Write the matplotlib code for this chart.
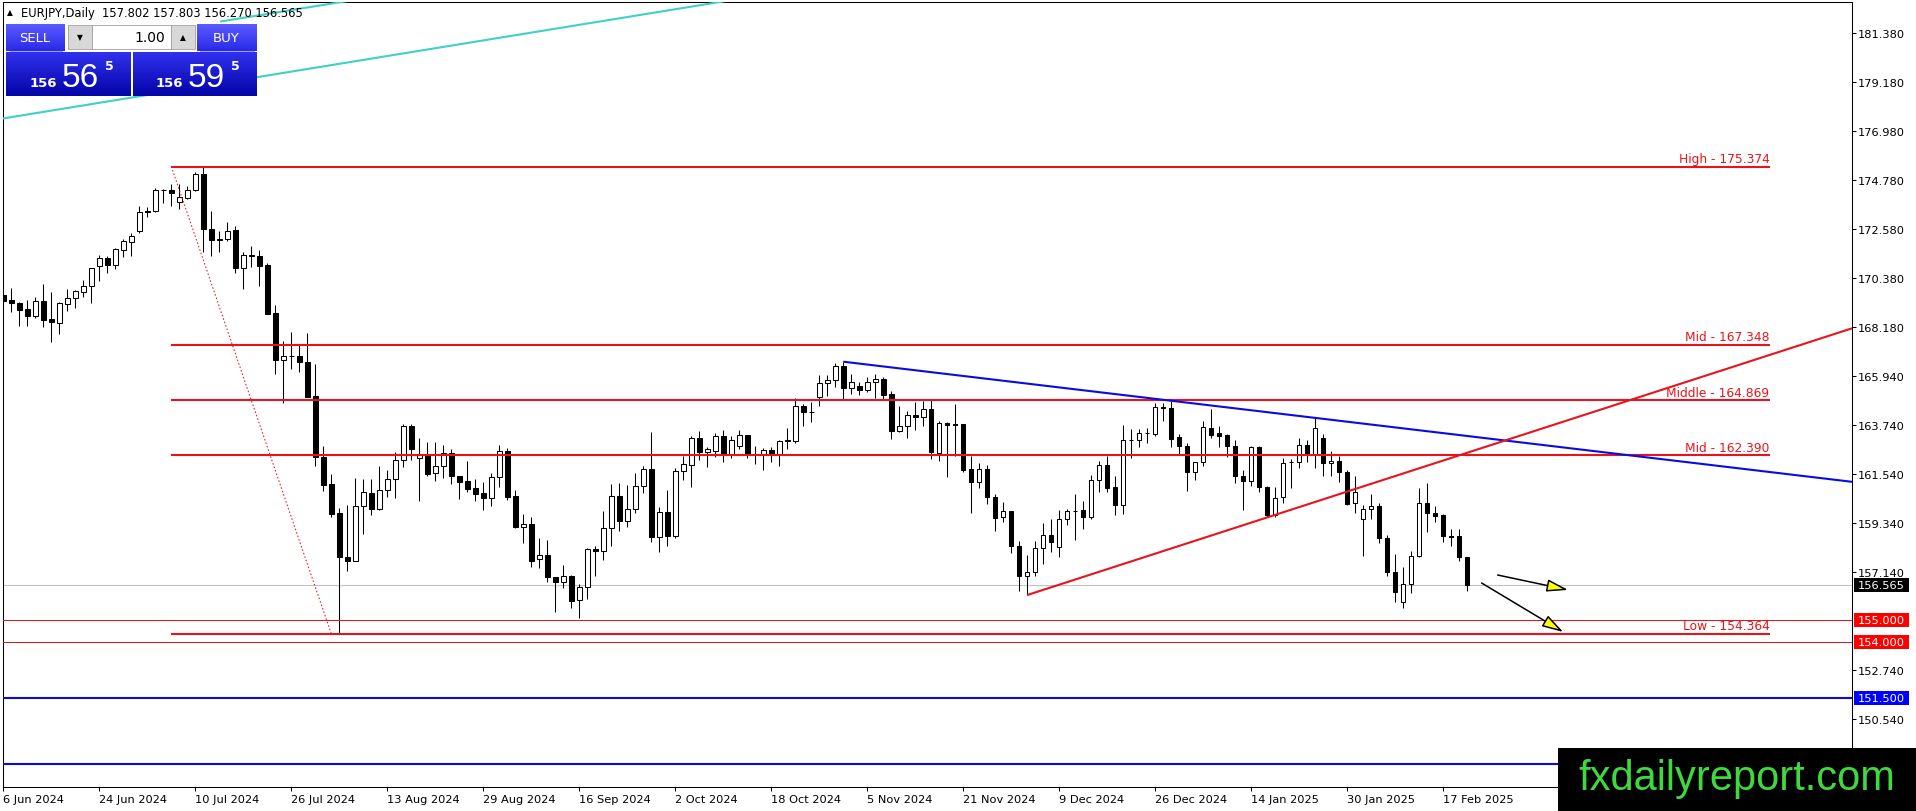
import matplotlib
matplotlib.use('Agg')
import matplotlib.pyplot as plt
import numpy as np
from matplotlib.patches import Rectangle, FancyArrowPatch

# ---------------- data ----------------
opens = [169.60,169.37,169.24,168.97,168.67,169.31,168.52,168.32,169.18,169.45,
         169.72,169.99,170.91,171.26,170.96,171.63,171.99,172.49,173.36,173.36,
         174.32,174.32,173.76,173.96,174.33,175.04,172.56,172.10,172.10,172.52,
         170.79,171.39,171.33,170.94,168.79,166.69,166.87,166.87,166.60,165.07,
         162.30,161.10,159.82,157.80,157.65,160.12,160.68,159.97,160.83,161.32,
         162.18,163.69,162.25,162.37,161.59,161.89,162.48,161.44,161.25,160.92,
         160.69,160.47,161.40,162.57,160.54,159.19,159.30,157.73,157.91,156.90,
         156.68,156.95,155.88,156.45,158.18,158.07,159.12,160.54,159.45,160.00,
         161.02,161.77,158.70,159.83,158.78,161.67,161.97,163.15,162.55,162.60,
         163.24,162.45,162.82,163.30,162.45,162.45,162.63,162.45,163.05,163.05,
         164.62,164.35,165.00,165.63,165.79,166.39,165.40,165.49,165.34,165.67,
         165.82,165.15,163.50,163.69,164.20,164.10,164.47,162.48,163.84,163.78,
         163.80,161.77,161.17,161.77,160.50,159.60,159.87,158.33,156.95,157.13,
         158.21,158.81,158.25,159.52,159.90,159.93,159.64,161.28,161.95,160.95,
         160.17,163.08,163.08,163.39,163.35,164.55,164.52,163.20,162.79,161.62,
         162.07,163.60,163.39,163.30,162.79,161.47,161.25,162.75,160.95,159.70,
         160.50,162.07,162.07,162.85,162.45,163.15,162.03,162.12,161.65,160.24,
         159.52,160.00,160.09,158.66,157.16,155.78,156.60,157.88,160.23,159.82,
         159.70,158.75,158.75,157.802]
highs = [170.24,169.90,169.27,169.37,169.49,170.09,169.72,169.30,169.87,169.84,
         170.27,170.79,171.39,171.33,171.72,172.11,172.38,173.61,173.54,174.42,
         174.36,174.59,174.59,174.51,175.11,175.374,173.39,172.49,172.86,172.71,
         171.54,171.81,171.63,171.02,169.15,167.53,167.95,167.39,167.89,166.50,
         162.79,161.55,160.02,160.15,161.35,161.32,161.32,161.92,161.73,162.52,
         163.80,163.80,163.15,162.97,162.97,162.85,162.67,161.47,162.15,161.32,
         161.17,161.59,162.87,162.70,160.83,159.75,159.60,158.67,158.58,156.93,
         157.46,157.01,156.60,158.22,158.33,159.90,161.10,161.13,161.05,161.59,
         161.89,163.45,160.05,160.85,161.82,162.37,163.27,163.50,162.75,163.39,
         163.54,163.24,163.54,163.30,162.82,162.70,162.75,163.09,163.62,164.95,
         164.70,164.77,166.00,166.00,166.54,166.60,166.05,165.67,165.90,166.05,
         165.90,165.30,164.59,164.40,164.77,164.85,164.92,163.95,163.90,164.70,
         163.80,162.37,162.04,161.95,160.65,160.27,159.87,158.55,157.91,158.55,
         159.34,159.52,159.94,160.00,160.65,160.35,161.50,162.15,162.37,161.47,
         163.75,163.57,163.57,163.60,164.74,164.74,164.85,163.35,162.94,162.10,
         163.95,164.47,163.72,163.35,163.09,161.73,162.79,162.79,160.99,160.98,
         162.25,162.22,163.15,163.09,164.05,163.35,162.60,162.34,161.74,161.44,
         160.15,160.65,160.24,158.81,157.95,157.35,158.10,160.90,161.13,160.12,
         159.75,159.07,159.07,157.803]
lows = [169.12,168.85,168.22,168.22,168.58,168.17,167.47,167.86,168.89,169.03,
        169.52,169.25,170.24,170.59,170.77,171.32,171.36,172.38,173.09,173.34,
        173.72,173.61,173.46,173.91,174.29,171.51,171.36,171.51,172.04,170.59,
        169.87,170.84,169.99,168.74,166.04,164.74,166.27,166.15,165.00,161.92,
        160.80,159.64,154.364,157.20,157.62,158.85,159.70,159.94,160.53,160.47,
        161.85,162.19,160.35,161.47,161.25,161.37,161.10,160.42,160.75,160.35,
        159.94,160.12,160.95,160.39,159.12,158.45,157.38,157.32,156.71,155.36,
        156.42,155.52,155.07,155.93,156.98,157.70,158.33,158.97,159.15,159.82,
        160.70,158.51,158.03,158.30,158.66,161.29,160.95,162.19,161.85,162.30,
        162.10,162.25,162.67,162.25,162.00,161.74,162.10,161.92,162.67,162.94,
        163.72,163.87,164.62,165.07,165.45,164.92,165.15,165.10,165.25,164.95,
        164.92,163.12,163.42,163.15,163.54,163.72,162.22,162.15,161.40,162.37,
        161.65,159.80,160.90,160.20,159.00,159.40,158.00,156.30,156.11,156.95,
        157.50,158.03,157.80,159.25,158.60,159.07,159.55,160.75,160.72,159.73,
        159.75,162.25,162.78,162.94,163.24,163.95,162.75,162.45,160.80,161.29,
        161.89,163.15,162.75,162.30,161.13,159.94,160.99,160.72,159.64,159.64,
        160.23,160.90,161.80,162.10,161.82,161.47,161.47,161.20,160.15,159.82,
        157.88,159.52,158.45,156.95,155.78,155.51,156.20,157.80,158.93,159.40,
        158.48,158.30,157.65,156.270]
closes = [169.34,169.22,168.94,168.67,169.31,168.49,168.37,169.24,169.45,169.76,
          169.99,170.79,171.24,170.96,171.66,172.01,172.23,173.31,173.31,174.33,
          174.30,174.17,173.99,174.33,175.04,172.56,172.08,172.08,172.49,170.79,
          171.39,171.33,170.91,168.74,166.69,166.87,166.85,166.57,165.03,162.30,
          161.07,159.75,157.80,157.65,160.12,160.72,160.00,160.83,161.32,162.18,
          163.69,162.67,162.45,161.55,161.89,162.48,161.47,161.20,160.87,160.65,
          160.47,161.40,162.57,160.50,159.18,159.30,157.65,157.91,156.90,156.68,
          156.95,155.85,156.45,158.18,158.07,159.12,160.57,159.45,160.00,161.02,
          161.77,158.70,159.83,158.78,161.67,162.00,163.15,162.55,162.67,163.24,
          162.45,163.09,163.30,162.45,162.43,162.63,162.45,163.02,163.08,164.59,
          164.32,164.33,165.64,165.79,166.39,165.40,165.67,165.34,165.67,165.82,
          165.12,163.50,163.69,164.20,164.10,164.47,162.55,163.84,163.75,163.77,
          161.74,161.17,161.77,160.50,159.57,159.87,158.33,156.95,157.13,158.21,
          158.81,158.48,159.52,159.87,159.87,159.64,161.28,161.95,160.93,160.17,
          163.08,163.06,163.39,163.38,164.55,164.53,163.12,162.79,161.62,162.07,
          163.65,163.32,163.27,162.79,161.47,161.25,162.75,160.95,159.70,160.45,
          162.03,162.08,162.85,162.45,163.60,162.03,162.15,161.65,160.20,160.72,
          160.00,160.09,158.66,157.16,156.26,156.60,157.88,160.23,159.82,159.67,
          158.75,158.74,157.80,156.565]

date_labels = ['6 Jun 2024', '24 Jun 2024', '10 Jul 2024', '26 Jul 2024', '13 Aug 2024',
               '29 Aug 2024', '16 Sep 2024', '2 Oct 2024', '18 Oct 2024', '5 Nov 2024',
               '21 Nov 2024', '9 Dec 2024', '26 Dec 2024', '14 Jan 2025', '30 Jan 2025',
               '17 Feb 2025']
price_ticks = [181.380, 179.180, 176.980, 174.780, 172.580, 170.380, 168.180, 165.940,
               163.740, 161.540, 159.340, 157.140, 152.740, 150.540]

fib_names = ['High', 'Mid', 'Middle', 'Mid', 'Low']
fib_levels = [175.374, 167.348, 164.869, 162.390, 154.364]
fib_start_bar, fib_end_bar = 21, 41
red_levels = [155.000, 154.000]
blue_levels = [151.500, 148.500]
last_price = 156.565
header_text = 'EURJPY,Daily  157.802 157.803 156.270 156.565'
sell_price = ('156', '56', '5')
buy_price = ('156', '59', '5')
lot_size = '1.00'

# trend lines as (bar, price) anchors
cyan_a = [(27.1, 181.89), (50.0, 183.22)]
cyan_b = [(-2.0, 177.42), (100.0, 183.38)]
blue_trend = [(105, 166.60), (231.1, 161.20)]
red_trend = [(128, 156.11), (231.1, 168.10)]
arrows = [((186.8, 157.01), (195.6, 156.34)),
          ((184.8, 156.65), (195.0, 154.45))]

# ---------------- layout ----------------
W, H = 1916, 812
RED = '#e8141c'
BLUE = '#0a0ae6'
CYAN = '#3fd0c6'
fig = plt.figure(figsize=(W / 100, H / 100), dpi=100, facecolor='white')
Lp, Rp, Tp, Bp = 3, 1852, 3, 788
ax = fig.add_axes([Lp / W, 1 - Bp / H, (Rp - Lp) / W, (Bp - Tp) / H])
XMIN, XMAX = -0.04, 231.1
YMIN, YMAX = 147.48, 182.77
ax.set_xlim(XMIN, XMAX)
ax.set_ylim(YMIN, YMAX)
ax.set_facecolor('white')

o = np.array(opens); h = np.array(highs); l = np.array(lows); c = np.array(closes)
x = np.arange(len(o))
up = c >= o
ax.vlines(x, l, h, color='black', lw=0.75, zorder=2)
bot = np.minimum(o, c)
hgt = np.abs(c - o)
ax.bar(x[up], hgt[up], bottom=bot[up], width=0.56, facecolor='white',
       edgecolor='black', lw=0.75, zorder=3)
ax.bar(x[~up], hgt[~up], bottom=bot[~up], width=0.56, facecolor='black',
       edgecolor='black', lw=0.75, zorder=3)

# full-width horizontal lines
ax.axhline(last_price, color='#c0c0c0', lw=0.75, zorder=1)
for lv in red_levels:
    ax.axhline(lv, color=RED, lw=0.75, zorder=4)
for lv in blue_levels:
    ax.axhline(lv, color=BLUE, lw=1.5, zorder=4)

# fibonacci levels
fib_label_bar = 220.8
for nm, lv in zip(fib_names, fib_levels):
    ax.hlines(lv, fib_start_bar, fib_label_bar, color=RED, lw=1.5, zorder=4)
    ax.annotate(f'{nm} - {lv:.3f}', (fib_label_bar, lv), xytext=(0, 1.2),
                textcoords='offset points', ha='right', va='bottom',
                color=RED, fontsize=8.8, zorder=5)
ax.plot([fib_start_bar, fib_end_bar], [fib_levels[0], fib_levels[-1]], color=RED,
        lw=0.75, ls=(0, (1.5, 2)), zorder=4)

# trend lines
for (p0, p1), col in [(cyan_a, CYAN), (cyan_b, CYAN),
                      (blue_trend, BLUE), (red_trend, RED)]:
    ax.plot([p0[0], p1[0]], [p0[1], p1[1]], color=col, lw=1.5, zorder=4,
            solid_capstyle='butt')

for a, b in arrows:
    ax.add_patch(FancyArrowPatch(a, b, arrowstyle='-|>,head_length=1.3,head_width=0.38',
                                 mutation_scale=10, facecolor='#ffff00',
                                 edgecolor='black', lw=1.1, shrinkA=0, shrinkB=0,
                                 zorder=6))

# axes styling
for sp in ax.spines.values():
    sp.set_color('black'); sp.set_linewidth(0.75)
ax.yaxis.tick_right()
ax.set_yticks(price_ticks)
ax.set_yticklabels([f'{v:.3f}' for v in price_ticks])
ax.tick_params(axis='y', direction='out', length=3, width=0.75, pad=1.5,
               labelsize=8.2, colors='black')
ax.set_xticks(np.arange(len(date_labels)) * 12)
ax.set_xticklabels(date_labels)
for t in ax.get_xticklabels():
    t.set_horizontalalignment('left')
ax.tick_params(axis='x', direction='out', length=3, width=0.75, pad=2,
               labelsize=8.2, colors='black')

# ---------------- overlay (terminal widgets) ----------------
ov = fig.add_axes([0, 0, 1, 1], zorder=10)
ov.set_xlim(0, W); ov.set_ylim(H, 0); ov.axis('off'); ov.patch.set_alpha(0)


def to_px(bar, price):
    xd, yd = ax.transData.transform((bar, price))
    return xd, H - yd


def grad(x0, y0, x1, y1, ctop, cbot):
    ct = np.array(matplotlib.colors.to_rgb(ctop)); cb = np.array(matplotlib.colors.to_rgb(cbot))
    t = np.linspace(0, 1, 32)[:, None, None]
    img = ct * (1 - t) + cb * t
    ov.imshow(img, extent=[x0, x1, y1, y0], origin='upper', aspect='auto',
              interpolation='bilinear', zorder=11)


# price labels on the axis
for lv, bg in [(last_price, 'black'), (red_levels[0], '#ff0000'),
               (red_levels[1], '#ff0000'), (blue_levels[0], '#0000ff')]:
    _, yp = to_px(0, lv)
    ov.add_patch(Rectangle((1854, yp - 7), 55, 14, facecolor=bg, edgecolor='none', zorder=11))
    ov.text(1881.5, yp, f'{lv:.3f}', color='white', fontsize=8.2, ha='center',
            va='center', zorder=12)

# header
ov.text(7, 13, '\u25B2', fontsize=5.5, color='black', va='center', zorder=12)
ov.text(21, 13, header_text, fontsize=8.3, color='black', va='center', zorder=12)

# one-click trading panel
grad(6, 25, 65, 52, '#5b5bff', '#2a2ae8')
grad(197, 25, 257, 52, '#5b5bff', '#2a2ae8')
ov.plot([10, 62], [51.5, 51.5], color='#9a9aff', lw=0.7, zorder=12)
ov.plot([200, 254], [51.5, 51.5], color='#9a9aff', lw=0.7, zorder=12)
ov.add_patch(Rectangle((68, 26), 24, 24, facecolor='#d8d8d8', edgecolor='#a0a0a0', lw=0.6, zorder=11))
ov.add_patch(Rectangle((92, 26), 79, 24, facecolor='white', edgecolor='#a0a0a0', lw=0.6, zorder=11))
ov.add_patch(Rectangle((171, 26), 24, 24, facecolor='#d8d8d8', edgecolor='#a0a0a0', lw=0.6, zorder=11))
ov.text(80, 38, '\u25BC', fontsize=5.5, ha='center', va='center', color='black', zorder=12)
ov.text(183, 38, '\u25B2', fontsize=5.5, ha='center', va='center', color='black', zorder=12)
ov.text(165, 37.5, lot_size, fontsize=10, ha='right', va='center', color='black', zorder=12)
ov.text(35, 39, 'SELL', fontsize=9.5, ha='center', va='center', color='white', zorder=12)
ov.text(226, 39, 'BUY', fontsize=9.5, ha='center', va='center', color='white', zorder=12)
grad(6, 53, 131, 97, '#3030ee', '#0505a8')
grad(133, 53, 257, 97, '#3030ee', '#0505a8')
for (big, small, sup), (xs, xb, xp) in [(sell_price, (43.5, 80, 109)),
                                        (buy_price, (169.5, 206, 235))]:
    ov.text(xs, 87, big, fontsize=9.5, ha='center', va='baseline', color='white',
            fontweight='bold', zorder=12)
    ov.text(xb, 87, small, fontsize=24, ha='center', va='baseline', color='white',
            family='Liberation Sans', zorder=12)
    ov.text(xp, 70, sup, fontsize=9, ha='center', va='baseline', color='white',
            fontweight='bold', zorder=12)

# logo
ov.add_patch(Rectangle((1558, 749), 358, 63, facecolor='black', edgecolor='none', zorder=13))
ov.text(1737, 790, 'fxdailyreport.com', color='#3fd83f', fontsize=30,
        family='Liberation Sans', ha='center', va='baseline', zorder=14)

fig.savefig('out.png', dpi=100, facecolor='white')
